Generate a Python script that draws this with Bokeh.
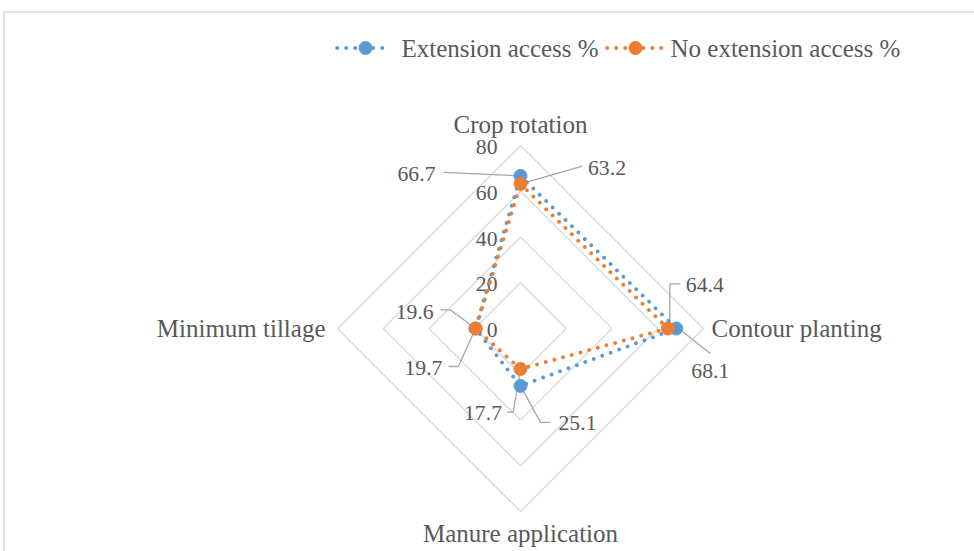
import numpy as np
from bokeh.plotting import figure
from bokeh.models import Range1d
from bokeh.embed import file_html
from bokeh.resources import INLINE
from bokeh.core.properties import value

# ---------------- data ----------------
categories = ["Crop rotation", "Contour planting", "Manure application", "Minimum tillage"]
series_names = ["Extension access %", "No extension access %"]
extension = [66.7, 68.1, 25.1, 19.7]
no_extension = [63.2, 64.4, 17.7, 19.6]
tick_values = [0, 20, 40, 60, 80]
tick_labels = ["0", "20", "40", "60", "80"]

# ---------------- layout / style ----------------
W, H = 974, 551
PX_PER_UNIT = 183 / 80.0          # pixels per value unit
CXP, CYP = 520, 328               # picture coords of the radar centre
RMAX = 80
FONT = "Liberation Serif"
TXT = "#595959"
GRID = "#D9D9D9"
LEAD = "#A6A6A6"
COLORS = ["#5B9BD5", "#ED7D31"]
CAT_FS = "25px"
LBL_FS = "21.7px"


def dx(px):
    return px / PX_PER_UNIT


def page_x(px):
    return (px - CXP) / PX_PER_UNIT


def page_y(py):
    return (CYP - py) / PX_PER_UNIT


p = figure(width=W, height=H, output_backend="svg", toolbar_location=None,
           x_range=Range1d(page_x(0), page_x(W)),
           y_range=Range1d(page_y(H), page_y(0)),
           min_border=0)
p.axis.visible = False
p.grid.visible = False
p.outline_line_color = None
p.background_fill_color = "white"
p.border_fill_color = "white"

# chart border (top and left edges visible)
p.segment(x0=[page_x(3), page_x(3.5)], y0=[page_y(11.5), page_y(11.5)],
          x1=[page_x(W), page_x(3.5)], y1=[page_y(11.5), page_y(H)],
          line_color=GRID, line_width=1.5)

N = len(categories)
angles = [np.pi / 2 - i * 2 * np.pi / N for i in range(N)]
ca = np.cos(angles)
sa = np.sin(angles)

# grid polygons
for r in tick_values[1:]:
    xs = list(r * ca) + [r * ca[0]]
    ys = list(r * sa) + [r * sa[0]]
    p.line(xs, ys, line_color=GRID, line_width=1.3)

# tick labels
p.text(x=[dx(-23)] * len(tick_values), y=[v + dx(-1.5) for v in tick_values], text=tick_labels,
       text_font=value(FONT), text_font_size=LBL_FS, text_color=TXT,
       text_align="right", text_baseline="middle")

# category labels
cat_off = [(0, 21, "center"), (8, 0, "left"), (0, -22, "center"), (-12, 0, "right")]
for i, c in enumerate(categories):
    ox, oy, al = cat_off[i]
    p.text(x=[RMAX * ca[i] + dx(ox)], y=[RMAX * sa[i] + dx(oy)], text=[c],
           text_font=value(FONT), text_font_size=CAT_FS, text_color=TXT,
           text_align=al, text_baseline="middle")

series = [extension, no_extension]

# data-label placement: label centre offset (px, screen y down) and leader path offsets
label_layout = [
    [((-104, -1.5), [(0, 0), (-77, -3.5)]),
     ((34, 42), [(2.5, 0), (34, 25)]),
     ((57, 37.5), [(0, 0), (20, 36.5), (30, 36.5)]),
     ((-52, 39.5), [(0, 0), (-17, 38), (-27, 38)])],
    [((86.5, -15.5), [(0, 0), (62, -17.7)]),
     ((37, -43.5), [(2, 0), (2, -44.7), (12.7, -44.7)]),
     ((-37.5, 44), [(0, 0), (-7.3, 43.2), (-13.3, 43.2)]),
     ((-61, -16.5), [(0, 0), (-25.6, -18.7), (-35, -18.7)])],
]

pts = []
for vals in series:
    xs = [v * c for v, c in zip(vals, ca)]
    ys = [v * s for v, s in zip(vals, sa)]
    pts.append((xs, ys))

# leader lines
for si, (xs, ys) in enumerate(pts):
    for i in range(N):
        path = label_layout[si][i][1]
        p.line([xs[i] + dx(a) for a, b in path], [ys[i] - dx(b) for a, b in path],
               line_color=LEAD, line_width=1.3)

# series lines and markers
for si, (xs, ys) in enumerate(pts):
    p.line(xs + [xs[0]], ys + [ys[0]], line_color=COLORS[si], line_width=4,
           line_dash="0 9", line_cap="round")
    p.scatter(xs, ys, size=13, marker="circle", fill_color=COLORS[si], line_color=COLORS[si])

# data labels
for si, (xs, ys) in enumerate(pts):
    vals = series[si]
    for i in range(N):
        (ox, oy), _ = label_layout[si][i]
        p.text(x=[xs[i] + dx(ox)], y=[ys[i] - dx(oy)], text=[f"{vals[i]:.1f}"],
               text_font=value(FONT), text_font_size=LBL_FS, text_color=TXT,
               text_align="center", text_baseline="middle")

# legend (manual)
leg = [(336.7, 390.7, 365, 401), (606.7, 661.7, 635, 670)]
LY = 47.5
for si, name in enumerate(series_names):
    x0, x1, xm, xt = leg[si]
    p.line([page_x(x0), page_x(x1)], [page_y(LY), page_y(LY)], line_color=COLORS[si],
           line_width=4, line_dash="0 9", line_cap="round")
    p.scatter([page_x(xm)], [page_y(LY)], size=13, marker="circle",
              fill_color=COLORS[si], line_color=COLORS[si])
    p.text(x=[page_x(xt)], y=[page_y(LY)], text=[name], text_font=value(FONT),
           text_font_size=CAT_FS, text_color=TXT, text_align="left", text_baseline="middle")

open("out.html", "w").write(file_html(p, INLINE))
